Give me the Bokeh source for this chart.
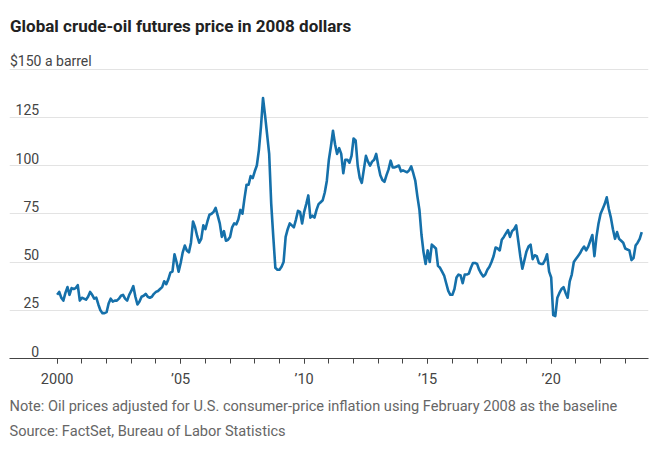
from bokeh.plotting import figure
from bokeh.models import Range1d, FixedTicker, Title, ColumnDataSource
from bokeh.core.properties import value
from bokeh.embed import file_html
from bokeh.resources import INLINE

# ---- data (monthly, Jan 2000 .. Sep 2023), 2008 dollars per barrel ----
start_year = 2000
prices = [
    # 2000
    33, 34.5, 31.5, 30, 34, 37, 33, 36.5, 36, 36.5, 38, 30,
    # 2001
    31.5, 31, 30.5, 32, 34.5, 33, 31, 31.5, 28, 25, 23.5, 23.5,
    # 2002
    24, 28.5, 31, 29.5, 30, 30, 31, 32.5, 33, 31, 30, 33,
    # 2003
    35, 37.5, 32, 28, 29.5, 32, 32.5, 33.5, 32, 31.5, 32, 33.5,
    # 2004
    34.5, 35, 36, 37, 40, 38.5, 41, 44.5, 45, 54, 50, 45,
    # 2005
    49.5, 55, 58.5, 56, 55, 60, 71, 68, 63.5, 60, 62, 69,
    # 2006
    67, 71, 74.5, 75, 76, 78, 74, 70, 63, 66, 61, 61.5,
    # 2007
    63, 68, 70, 69.5, 72, 77, 75, 83, 90, 90, 94.5, 93.5,
    # 2008
    97, 100, 108, 120, 135, 126, 116, 106, 80, 63, 47, 46,
    # 2009
    46, 47.5, 50, 63, 67, 70, 69, 68, 72, 76.5, 76, 70,
    # 2010
    76, 80, 84.5, 73, 74, 73, 77, 80, 81, 82, 86, 92,
    # 2011
    103, 110, 118, 111, 106, 109, 106, 96, 103, 103, 101.5, 105,
    # 2012
    114, 113, 100, 93.5, 91, 98, 105, 102, 100, 102, 103, 106,
    # 2013
    100, 95, 92.5, 91.5, 95, 98, 102.5, 99, 99, 99.5, 100, 97,
    # 2014
    97.5, 97, 96.5, 97.5, 99.5, 96, 92, 84, 77, 64, 55, 49,
    # 2015
    56, 50, 59, 58, 57, 48, 47, 45, 43, 39, 35, 33,
    # 2016
    33, 36, 42, 43.5, 43, 39, 43.5, 43.5, 44, 47, 49.5, 49.5,
    # 2017
    49, 46, 44, 42.5, 43.5, 46, 47.5, 50, 53, 57.5, 57, 56,
    # 2018
    61.5, 63, 64.8, 66.5, 63, 66, 67, 69, 61, 53, 46.5, 51,
    # 2019
    55.5, 58, 59, 51.5, 53.5, 53, 49.5, 49, 49, 51, 54, 45,
    # 2020
    42, 22.5, 22, 31.5, 34, 36, 37, 34, 31.5, 40, 43.5, 50,
    # 2021
    51.5, 53, 54.5, 56.5, 58, 56, 58, 61, 64, 53, 63, 70,
    # 2022
    75, 77.5, 80, 83.5, 77.5, 73, 67, 62, 65.5, 62, 61, 60,
    # 2023
    57, 56.5, 56, 51, 52, 58.5, 60, 62, 65.5,
]
y_tick_values = [0, 25, 50, 75, 100, 125]
y_tick_labels = ["0", "25", "50", "75", "100", "125"]
y_top_value = 150
y_top_label = "$150 a barrel"
x_major_ticks = [2000, 2005, 2010, 2015, 2020]
x_major_labels = ["2000", "\u201905", "\u201910", "\u201915", "\u201920"]
x_minor_ticks = list(range(2000, 2024))

title_text = "Global crude-oil futures price in 2008 dollars"
note_text = "Note: Oil prices adjusted for U.S. consumer-price inflation using February 2008 as the baseline"
source_text = "Source: FactSet, Bureau of Labor Statistics"

years = [start_year + i / 12.0 for i in range(len(prices))]

FONT = "Roboto"
LINE_COLOR = "#1570aa"
X0, X1 = 1998.07, 2023.94
PX_PER_UNIT = 308 / 159.6          # vertical scale matching the reference
FRAME_H = 452 - 94                 # frame spans from the top edge to the x axis
Y1 = FRAME_H / PX_PER_UNIT
TITLE_Y = (FRAME_H - 25) / PX_PER_UNIT   # title centred 25 px below the top edge

p = figure(
    width=660, height=452,
    x_range=Range1d(X0, X1),
    y_range=Range1d(0, Y1),
    output_backend="svg", toolbar_location=None,
    min_border_left=9, min_border_right=12,
    min_border_top=0, min_border_bottom=94,
)
p.outline_line_color = None
p.background_fill_color = "white"
p.border_fill_color = "white"

# title drawn as text inside the (tall) frame
p.text(x=[X0 + 0.02], y=[TITLE_Y], text=[title_text], text_align="left",
       text_baseline="middle", text_font=value(FONT), text_font_size="17px",
       text_font_style="bold", text_color="#222222")

# notes
n1 = Title(text=note_text, align="left", text_font=FONT, text_font_size="14.6px",
           text_font_style="normal", text_color="#666666", standoff=8)
p.add_layout(n1, "below")
n2 = Title(text=source_text, align="left", text_font=FONT, text_font_size="14.6px",
           text_font_style="normal", text_color="#666666", standoff=3)
p.add_layout(n2, "below")

# grid
p.xgrid.visible = False
p.ygrid.ticker = FixedTicker(ticks=y_tick_values[1:] + [y_top_value])
p.ygrid.grid_line_color = "#e3e3e3"
p.ygrid.grid_line_width = 1

# y axis hidden; labels drawn inside the plot above their gridlines
p.yaxis.visible = False
ylab = ColumnDataSource(dict(
    x=[X0 + 1.2] * len(y_tick_values),
    y=y_tick_values,
    text=y_tick_labels,
))
p.text(x="x", y="y", text="text", source=ylab, text_align="right",
       text_baseline="bottom", y_offset=-2,
       text_font=value(FONT), text_font_size="14px", text_color="#444444")
p.text(x=[X0 + 0.02], y=[y_top_value], text=[y_top_label], text_align="left",
       text_baseline="bottom", y_offset=0,
       text_font=value(FONT), text_font_size="14px", text_color="#444444")

# x axis
ax = p.xaxis[0]
ax.ticker = FixedTicker(ticks=x_major_ticks, minor_ticks=x_minor_ticks)
ax.major_label_overrides = {k: v for k, v in zip(x_major_ticks, x_major_labels)}
ax.axis_line_color = "#444444"
ax.axis_line_width = 1.2
ax.major_tick_line_color = "#444444"
ax.minor_tick_line_color = "#444444"
ax.major_tick_in = 0
ax.major_tick_out = 5
ax.minor_tick_in = 0
ax.minor_tick_out = 5
ax.major_label_standoff = 7
ax.major_label_text_font = FONT
ax.major_label_text_font_size = "14.5px"
ax.major_label_text_color = "#444444"

# line
src = ColumnDataSource(dict(x=years, y=prices))
p.line("x", "y", source=src, line_color=LINE_COLOR, line_width=2.6, line_join="round")

open("out.html", "w").write(file_html(p, INLINE))
